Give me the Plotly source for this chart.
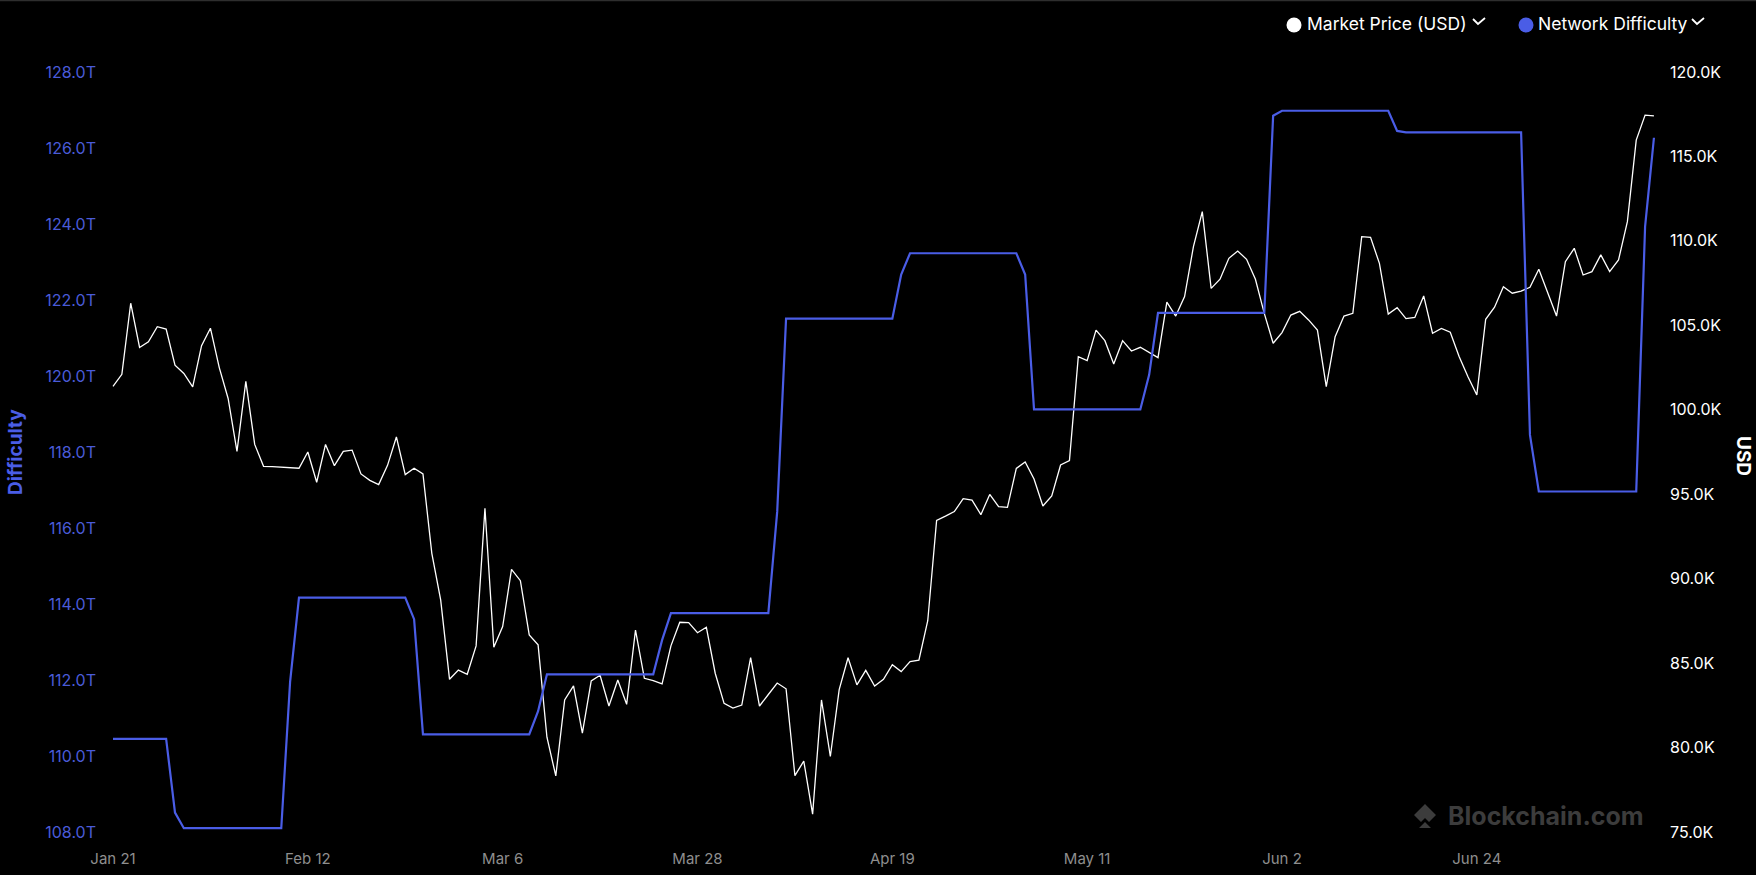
import pandas as pd
import plotly.graph_objects as go

# ---------------- data ----------------
start_date = "2025-01-21"

market_price_k = [
    101.39, 102.10, 106.31, 103.69, 104.03, 104.92, 104.78, 102.64, 102.15, 101.36,
    103.80, 104.83, 102.50, 100.67, 97.54, 101.68, 97.95, 96.65, 96.63, 96.60,
    96.56, 96.54, 97.50, 95.71, 97.95, 96.69, 97.54, 97.61, 96.20, 95.82,
    95.57, 96.71, 98.39, 96.16, 96.54, 96.20, 91.50, 88.74, 84.04, 84.59,
    84.34, 86.02, 94.17, 85.94, 87.16, 90.55, 89.88, 86.67, 86.08, 80.61,
    78.32, 82.82, 83.65, 80.85, 83.94, 84.28, 82.46, 84.00, 82.56, 86.96,
    84.10, 83.96, 83.77, 86.02, 87.42, 87.40, 86.80, 87.12, 84.40, 82.62,
    82.34, 82.52, 85.32, 82.46, 83.14, 83.82, 83.48, 78.34, 79.20, 76.06,
    82.82, 79.47, 83.43, 85.32, 83.71, 84.57, 83.64, 84.04, 84.91, 84.50,
    85.09, 85.18, 87.51, 93.45, 93.70, 93.97, 94.74, 94.65, 93.79, 94.99,
    94.26, 94.22, 96.53, 96.91, 95.90, 94.30, 94.90, 96.73, 96.99, 103.14,
    102.91, 104.72, 104.09, 102.71, 104.09, 103.48, 103.70, 103.42, 103.09, 106.38,
    105.55, 106.70, 109.66, 111.73, 107.19, 107.73, 108.97, 109.40, 108.91, 107.73,
    105.71, 103.94, 104.57, 105.61, 105.83, 105.32, 104.72, 101.37, 104.33, 105.55,
    105.71, 110.25, 110.21, 108.67, 105.67, 106.05, 105.40, 105.47, 106.74, 104.53,
    104.82, 104.59, 103.15, 101.96, 100.88, 105.36, 106.07, 107.29, 106.90, 107.03,
    107.25, 108.32, 106.99, 105.55, 108.77, 109.56, 107.98, 108.18, 109.17, 108.18,
    108.87, 111.14, 115.97, 117.45, 117.40,
]

network_difficulty_t = [
    110.45, 110.45, 110.45, 110.45, 110.45, 110.45, 110.45, 108.51,
    108.10, 108.10, 108.10, 108.10, 108.10, 108.10, 108.10, 108.10, 108.10, 108.10, 108.10, 108.10,
    111.96,
    114.17, 114.17, 114.17, 114.17, 114.17, 114.17, 114.17, 114.17, 114.17, 114.17, 114.17, 114.17, 114.17,
    113.60,
    110.57, 110.57, 110.57, 110.57, 110.57, 110.57, 110.57, 110.57, 110.57, 110.57, 110.57, 110.57, 110.57,
    111.18,
    112.15, 112.15, 112.15, 112.15, 112.15, 112.15, 112.15, 112.15, 112.15, 112.15, 112.15, 112.15, 112.15,
    113.05,
    113.76, 113.76, 113.76, 113.76, 113.76, 113.76, 113.76, 113.76, 113.76, 113.76, 113.76, 113.76,
    116.43,
    121.51, 121.51, 121.51, 121.51, 121.51, 121.51, 121.51, 121.51, 121.51, 121.51, 121.51, 121.51, 121.51,
    122.67,
    123.23, 123.23, 123.23, 123.23, 123.23, 123.23, 123.23, 123.23, 123.23, 123.23, 123.23, 123.23, 123.23,
    122.67,
    119.12, 119.12, 119.12, 119.12, 119.12, 119.12, 119.12, 119.12, 119.12, 119.12, 119.12, 119.12, 119.12,
    120.03,
    121.66, 121.66, 121.66, 121.66, 121.66, 121.66, 121.66, 121.66, 121.66, 121.66, 121.66, 121.66, 121.66,
    126.85,
    126.98, 126.98, 126.98, 126.98, 126.98, 126.98, 126.98, 126.98, 126.98, 126.98, 126.98, 126.98, 126.98,
    126.45,
    126.41, 126.41, 126.41, 126.41, 126.41, 126.41, 126.41, 126.41, 126.41, 126.41, 126.41, 126.41, 126.41, 126.41,
    118.45,
    116.96, 116.96, 116.96, 116.96, 116.96, 116.96, 116.96, 116.96, 116.96, 116.96, 116.96, 116.96,
    123.93, 126.27,
]

x_tick_dates = ["2025-01-21", "2025-02-12", "2025-03-06", "2025-03-28",
                "2025-04-19", "2025-05-11", "2025-06-02", "2025-06-24"]
x_tick_labels = ["Jan 21", "Feb 12", "Mar 6", "Mar 28", "Apr 19", "May 11", "Jun 2", "Jun 24"]

diff_ticks = [108, 110, 112, 114, 116, 118, 120, 122, 124, 126, 128]
diff_tick_labels = [f"{v:.1f}T" for v in diff_ticks]
price_ticks = [75, 80, 85, 90, 95, 100, 105, 110, 115, 120]
price_tick_labels = [f"{v:.1f}K" for v in price_ticks]

dates = pd.date_range(start_date, periods=len(market_price_k), freq="D")

# ---------------- layout geometry (pixels) ----------------
W, H = 1756, 875
L, R = 99, 1665          # plot area left/right
T, B = 72, 832           # plot area top/bottom
PX_PER_DAY = 8.856
FIRST_PT_PX = 113        # pixel of the first data point
first = pd.Timestamp(start_date)
x_lo = first + pd.Timedelta(days=(L - FIRST_PT_PX) / PX_PER_DAY)
x_hi = first + pd.Timedelta(days=(R - FIRST_PT_PX) / PX_PER_DAY)


def px(x):
    return (x - L) / (R - L)


def py(y):
    return (B - y) / (B - T)


BLUE = "#4A5DE6"
BLUE_TXT = "#4A5BD8"
FONT = "Inter"

fig = go.Figure()
fig.add_trace(go.Scatter(
    x=dates, y=market_price_k, name="Market Price (USD)", mode="lines",
    line=dict(color="#FFFFFF", width=1.3), yaxis="y", showlegend=False,
))
fig.add_trace(go.Scatter(
    x=dates, y=network_difficulty_t, name="Network Difficulty", mode="lines",
    line=dict(color=BLUE, width=2.2), yaxis="y2", showlegend=False,
))

fig.update_layout(
    width=W, height=H,
    paper_bgcolor="#000000", plot_bgcolor="#000000",
    margin=dict(l=L, r=W - R, t=T, b=H - B, autoexpand=False),
    font=dict(family=FONT, color="#FFFFFF", size=16),
    xaxis=dict(
        range=[x_lo, x_hi], tickvals=x_tick_dates, ticktext=x_tick_labels,
        showgrid=False, zeroline=False, showline=False, ticks="",
        tickfont=dict(color="#8E8E8E", size=15, family=FONT), ticklabelstandoff=16,
    ),
    yaxis=dict(
        side="right", range=[75, 120], tickvals=price_ticks, ticktext=price_tick_labels,
        showgrid=False, zeroline=False, showline=False, ticks="",
        tickfont=dict(color="#FFFFFF", size=16, family=FONT), ticklabelstandoff=4,
    ),
    yaxis2=dict(
        side="left", overlaying="y", range=[108, 128], tickvals=diff_ticks,
        ticktext=diff_tick_labels, showgrid=False, zeroline=False, showline=False,
        ticks="", tickfont=dict(color=BLUE_TXT, size=16, family=FONT), ticklabelstandoff=2,
    ),
    hovermode=False,
)

annotations = [
    dict(text="<b>Difficulty</b>", x=px(15), y=py(452), xref="paper", yref="paper",
         textangle=-90, showarrow=False, font=dict(color=BLUE, size=19, family=FONT),
         xanchor="center", yanchor="middle"),
    dict(text="<b>USD</b>", x=px(1744), y=py(456), xref="paper", yref="paper",
         textangle=90, showarrow=False, font=dict(color="#FFFFFF", size=19, family=FONT),
         xanchor="center", yanchor="middle"),
    dict(text="Market Price (USD)", x=px(1305), y=py(23), xref="paper", yref="paper",
         showarrow=False, font=dict(color="#FFFFFF", size=17.5, family=FONT),
         xanchor="left", yanchor="middle"),
    dict(text="Network Difficulty", x=px(1536), y=py(23), xref="paper", yref="paper",
         showarrow=False, font=dict(color="#FFFFFF", size=17.5, family=FONT),
         xanchor="left", yanchor="middle"),
    dict(text="<b>Blockchain.com</b>", x=px(1446), y=py(816), xref="paper", yref="paper",
         showarrow=False, font=dict(color="#3C3C3C", size=25, family=FONT),
         xanchor="left", yanchor="middle"),
]

shapes = [
    # top border line of the page
    dict(type="line", xref="paper", yref="paper", x0=px(0), x1=px(W), y0=py(0.5), y1=py(0.5),
         line=dict(color="#2E2E2E", width=1.5)),
    # legend markers
    dict(type="circle", xref="paper", yref="paper", xsizemode="pixel", ysizemode="pixel",
         xanchor=px(1294), yanchor=py(25), x0=-7.5, x1=7.5, y0=-7.5, y1=7.5,
         fillcolor="#FFFFFF", line=dict(width=0)),
    dict(type="circle", xref="paper", yref="paper", xsizemode="pixel", ysizemode="pixel",
         xanchor=px(1526), yanchor=py(25), x0=-7.5, x1=7.5, y0=-7.5, y1=7.5,
         fillcolor=BLUE, line=dict(width=0)),
    # legend chevrons
    dict(type="path", xref="paper", yref="paper", xsizemode="pixel", ysizemode="pixel",
         xanchor=px(1479), yanchor=py(21), path="M -6 2 L -1 -3 L 6 3",
         line=dict(color="#FFFFFF", width=1.8)),
    dict(type="path", xref="paper", yref="paper", xsizemode="pixel", ysizemode="pixel",
         xanchor=px(1698), yanchor=py(21), path="M -6 2 L -1 -3 L 6 3",
         line=dict(color="#FFFFFF", width=1.8)),
    # watermark logo
    dict(type="path", xref="paper", yref="paper", xsizemode="pixel", ysizemode="pixel",
         xanchor=px(1425), yanchor=py(816),
         path="M 0 12 L 11 1 L 4 -6 L 0 -2 L -4 -6 L -11 1 Z M 0 -6 L 6 -12 L 0 -12 L -6 -12 Z",
         fillcolor="#3C3C3C", line=dict(width=0)),
]

fig.update_layout(annotations=annotations, shapes=shapes)
fig.write_html("out.html", config={"displayModeBar": False})

# remove the browser's default page margin so the figure sits at the window's corner
with open("out.html", "r", encoding="utf-8") as f:
    html = f.read()
html = html.replace(
    "<head>",
    "<head><style>html,body{margin:0;padding:0;background:#000;overflow:hidden;}</style>",
    1,
)
with open("out.html", "w", encoding="utf-8") as f:
    f.write(html)
